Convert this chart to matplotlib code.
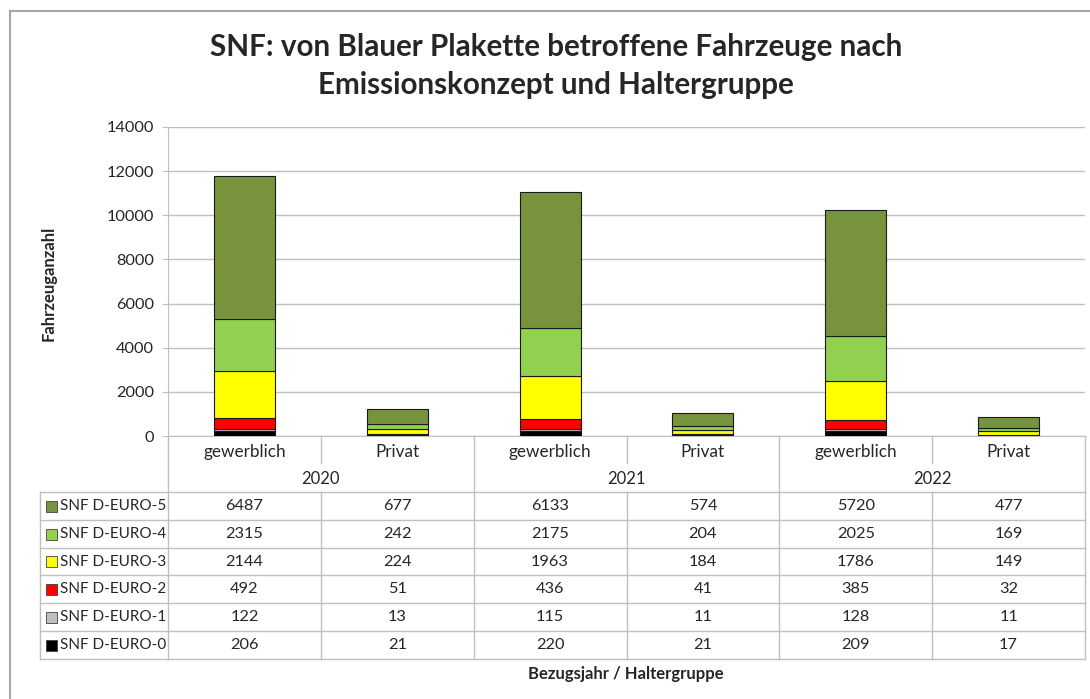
import numpy as np
import matplotlib
matplotlib.use('Agg')
import matplotlib.pyplot as plt
from matplotlib.patches import Rectangle
from matplotlib.lines import Line2D
from matplotlib.transforms import blended_transform_factory

# Bezugsjahre und Haltergruppen (x-Achse, zweistufig)
jahre = ['2020', '2021', '2022']
gruppen = ['gewerblich', 'Privat']

# Emissionsklassen von unten nach oben gestapelt
klassen = ['SNF D-EURO-0', 'SNF D-EURO-1', 'SNF D-EURO-2',
           'SNF D-EURO-3', 'SNF D-EURO-4', 'SNF D-EURO-5']
euro0 = [206, 21, 220, 21, 209, 17]
euro1 = [122, 13, 115, 11, 128, 11]
euro2 = [492, 51, 436, 41, 385, 32]
euro3 = [2144, 224, 1963, 184, 1786, 149]
euro4 = [2315, 242, 2175, 204, 2025, 169]
euro5 = [6487, 677, 6133, 574, 5720, 477]
werte = [euro0, euro1, euro2, euro3, euro4, euro5]
farben = ['#000000', '#C0C0C0', '#FF0000', '#FFFF00', '#92D050', '#77933C']

plt.rcParams['font.family'] = ['Lato', 'DejaVu Sans']
txt = '#262626'
gitter = '#BFBFBF'

W, H = 1090, 699
fig = plt.figure(figsize=(W / 100, H / 100), dpi=100)
fig.patch.set_facecolor('white')

# Diagrammbereich in Pixeln
x0, x1, y_top, y_null = 168, 1085, 127, 436
ax = fig.add_axes([x0 / W, 1 - y_null / H, (x1 - x0) / W, (y_null - y_top) / H])

n = len(euro0)
pos = np.arange(n) + 0.5
unten = np.zeros(n)
for name, v, f in zip(klassen, werte, farben):
    ax.bar(pos, v, width=0.4, bottom=unten, color=f, edgecolor='#1a1a1a',
           linewidth=0.8, zorder=3)
    unten += np.array(v)

ax.set_xlim(0, n)
ax.set_ylim(0, 14000)
ax.set_yticks(np.arange(0, 14001, 2000))
ax.set_xticks([])
ax.grid(axis='y', color=gitter, linewidth=1, zorder=0)
for s in ['top', 'right']:
    ax.spines[s].set_visible(False)
ax.spines['left'].set_color(gitter)
ax.spines['bottom'].set_color(gitter)
ax.tick_params(axis='y', colors=gitter, labelcolor=txt, labelsize=11.8,
               length=4, pad=6)

# Datentabelle unter der Achse
tr = blended_transform_factory(ax.transData, ax.transAxes)
px_dx = (x1 - x0) / n


def fy(py):
    return (y_null - py) / (y_null - y_top)


def linie(xs, ys):
    ax.add_line(Line2D(xs, [fy(y) for y in ys], transform=tr, color=gitter,
                       linewidth=1, clip_on=False))


tab_oben = 492
zeilen = [492, 520, 548, 575, 603, 631, 659]
leg_links = (40 - x0) / px_dx

for k in range(n + 1):
    if k % 2 == 0:
        linie([k, k], [y_null, zeilen[-1]])
    else:
        linie([k, k], [y_null, 463])
        linie([k, k], [tab_oben, zeilen[-1]])
linie([leg_links, leg_links], [tab_oben, zeilen[-1]])
for zy in zeilen:
    linie([leg_links, n], [zy, zy])

for k in range(n):
    ax.text(k + 0.5, fy(452), gruppen[k % 2], transform=tr, ha='center',
            va='center', fontsize=12.3, color=txt)
for j, jahr in enumerate(jahre):
    ax.text(2 * j + 1, fy(479), jahr, transform=tr, ha='center', va='center',
            fontsize=12, color=txt)

for r, idx in enumerate(range(len(klassen) - 1, -1, -1)):
    ym = (zeilen[r] + zeilen[r + 1]) / 2
    ax.add_patch(Rectangle(((46 - x0) / px_dx, fy(ym + 5.5)), 11 / px_dx,
                           11 / (y_null - y_top), transform=tr,
                           facecolor=farben[idx], edgecolor='#404040',
                           linewidth=0.6, clip_on=False))
    ax.text((60 - x0) / px_dx, fy(ym), klassen[idx], transform=tr, ha='left',
            va='center', fontsize=11, color=txt)
    for k in range(n):
        ax.text(k + 0.5, fy(ym), str(werte[idx][k]), transform=tr,
                ha='center', va='center', fontsize=11.8, color=txt)

# Titel und Achsentitel
fig.text(556 / W, 1 - 47 / H, 'SNF: von Blauer Plakette betroffene Fahrzeuge nach',
         ha='center', va='center', fontsize=21.3, fontweight='bold', color=txt)
fig.text(556 / W, 1 - 85 / H, 'Emissionskonzept und Haltergruppe',
         ha='center', va='center', fontsize=21.3, fontweight='bold', color=txt)
fig.text(49 / W, 1 - 283 / H, 'Fahrzeuganzahl', rotation=90, ha='center',
         va='center', fontsize=12, fontweight='bold', color=txt)
fig.text(626 / W, 1 - 674 / H, 'Bezugsjahr / Haltergruppe', ha='center',
         va='center', fontsize=12, fontweight='bold', color=txt)

# Rahmen des Diagrammobjekts
fig.add_artist(Line2D([10 / W, 10 / W], [1 - 11 / H, 0], transform=fig.transFigure,
                      color='#A6A6A6', linewidth=1.5))
fig.add_artist(Line2D([10 / W, 1], [1 - 11 / H, 1 - 11 / H], transform=fig.transFigure,
                      color='#A6A6A6', linewidth=1.5))

fig.savefig('out.png', dpi=100)
